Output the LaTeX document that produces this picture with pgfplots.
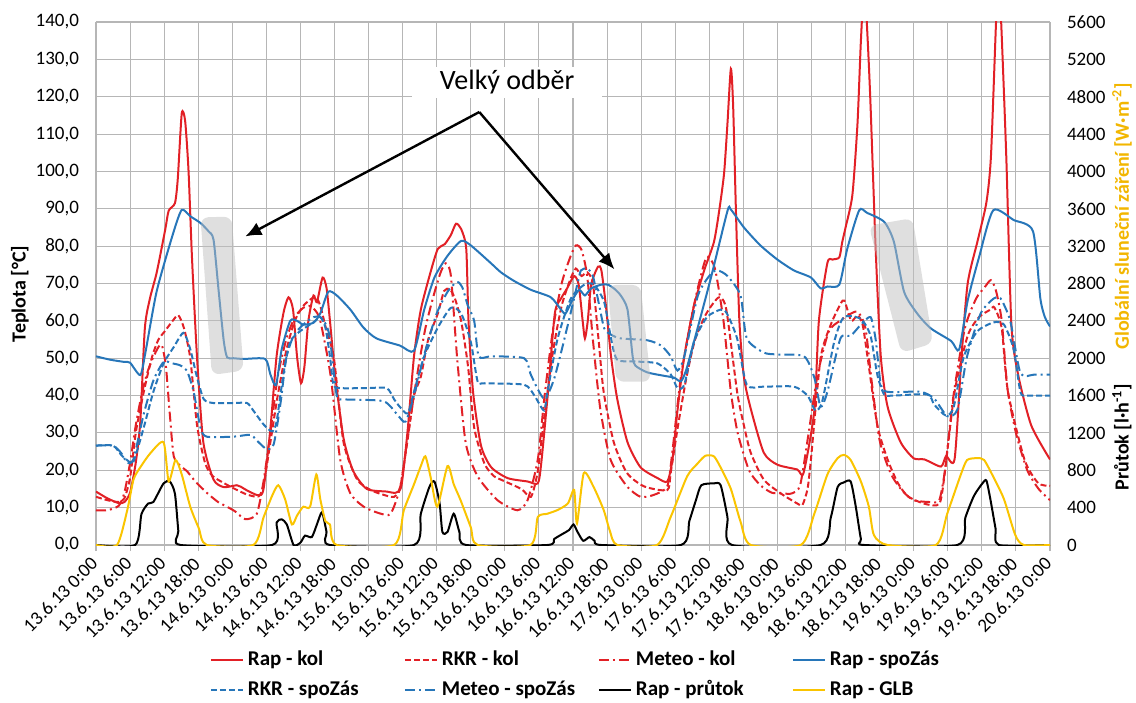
\documentclass[border=0pt]{standalone}
\usepackage{fontspec}
\setmainfont{Carlito}
\usepackage{pgfplots}
\pgfplotsset{compat=1.18}
\usetikzlibrary{arrows.meta}

\definecolor{cred}{RGB}{226,32,38}
\definecolor{cblue}{RGB}{39,118,185}
\definecolor{cyel}{RGB}{250,196,0}
\definecolor{cylab}{RGB}{242,182,0}
\definecolor{cgrid}{RGB}{182,182,182}

\pgfplotsset{
  s1/.style={line width=1pt, smooth, tension=0.4},
  rapkol/.style={s1, cred, solid},
  rkrkol/.style={s1, cred, dash pattern=on 3pt off 1.5pt},
  metkol/.style={s1, cred, dash pattern=on 5pt off 2pt on 1pt off 2pt},
  rapspo/.style={s1, cblue, solid},
  rkrspo/.style={s1, cblue, dash pattern=on 3pt off 1.5pt},
  metspo/.style={s1, cblue, dash pattern=on 5pt off 2pt on 1pt off 2pt},
  prutok/.style={s1, black, solid},
  glb/.style={s1, cyel, solid},
}
\newcommand{\legtxt}[1]{\makebox[77pt][l]{#1}}

\begin{document}
\begin{tikzpicture}
\begin{axis}[
  scale only axis, width=477pt, height=261.5pt,
  xmin=0, xmax=168, ymin=0, ymax=140,
  xtick={0,6,...,168},
  xticklabels={13.6.13 0:00,13.6.13 6:00,13.6.13 12:00,13.6.13 18:00,
    14.6.13 0:00,14.6.13 6:00,14.6.13 12:00,14.6.13 18:00,
    15.6.13 0:00,15.6.13 6:00,15.6.13 12:00,15.6.13 18:00,
    16.6.13 0:00,16.6.13 6:00,16.6.13 12:00,16.6.13 18:00,
    17.6.13 0:00,17.6.13 6:00,17.6.13 12:00,17.6.13 18:00,
    18.6.13 0:00,18.6.13 6:00,18.6.13 12:00,18.6.13 18:00,
    19.6.13 0:00,19.6.13 6:00,19.6.13 12:00,19.6.13 18:00,
    20.6.13 0:00},
  ytick={0,10,...,140},
  grid=major,
  major grid style={cgrid, line width=0.55pt},
  axis line style={draw=none},
  xtick pos=bottom, ytick pos=left,
  tick align=outside,
  xtick style={cgrid, line width=0.55pt},
  ytick style={draw=none},
  major tick length=3pt,
  xticklabel style={rotate=45, anchor=east, inner sep=1pt, font=\fontsize{9.5}{11}\selectfont},
  xticklabel shift=4pt,
  yticklabel style={font=\fontsize{9.5}{11}\selectfont, xshift=-2pt,
    /pgf/number format/.cd, fixed, fixed zerofill, precision=1, use comma, assume math mode=true},
  ylabel={Teplota [°C]},
  ylabel style={font=\fontsize{10}{12}\selectfont\bfseries, at={(axis description cs:-0.0797,0.48)}, anchor=center},
]
% Rap - kol
\addplot[rapkol] coordinates {
(0,14.3)(2,12.5)(4,11.2)(5,11.5)(6,14)(7,22)(7.8,33)(8.6,58)(9.5,66)(10.7,73)(12.2,84.5)(12.8,89.5)(13.9,91.5)(14.4,98)(15.1,115.5)(15.7,113.5)(16.3,100)(16.9,77)(17.8,50)(18.9,27.5)(20.7,17.5)(22.5,15.5)(24.8,16)(25.5,15.6)(26.6,14.6)(28.6,13.3)(29.5,15)(30.7,31)(31.8,50.5)(33,62)(33.9,66.3)(34.7,63)(35.4,50.5)(36.1,43.3)(36.7,47.7)(37.4,60)(38.3,66.8)(38.9,65)(39.9,71.6)(40.6,68.8)(41.2,60)(42.1,45.7)(43.6,28.5)(45.3,19.8)(47.7,15)(51.2,14.3)(52.8,14)(53.8,16)(54.9,31)(56,50.5)(57.2,63)(59,73.5)(60.2,79.3)(61.4,80.5)(62.5,83)(63.4,86)(64.3,84.6)(65.2,79.3)(65.6,60)(66.4,41)(67.8,26.6)(69.6,20.8)(72.5,17.9)(76,17)(77.8,16.5)(78.4,21.8)(79.6,41)(80.8,62)(81.9,66)(83,68.8)(84.2,72)(85,69.7)(85.7,60)(86.1,55.3)(86.6,60)(87.2,69.7)(88.4,74.5)(89,73.5)(89.8,64)(90.7,50.5)(91.8,39)(93.6,27.5)(95.9,20.8)(98.9,17.9)(100.6,17)(101.5,22.7)(102.4,36)(103.6,50.5)(105.3,64)(107.1,73.5)(108.8,81)(109.7,89)(110.6,99.4)(111.2,112.8)(111.8,127.5)(112.2,117.6)(112.7,89)(113.3,60)(114.1,45)(115.3,36.5)(117.6,24.7)(120,21.5)(123.5,20.2)(124.6,19.3)(126.5,36)(127.3,60)(128.8,75.5)(129.7,76.4)(130.9,77)(131.4,81)(132,85)(133.2,93.7)(134.1,112.8)(134.7,135)(135.3,150)(135.9,135)(136.4,117.6)(137.3,79.3)(138.2,50.5)(139.4,37)(141.7,27.5)(144,23.2)(145.9,22.9)(148.8,21)(149.7,23.8)(151.2,23)(152.4,50)(153.5,70)(155.3,81.7)(156.8,91.7)(157.6,104)(158.5,140)(158.95,152)(159.4,140)(160.3,104)(161.2,59)(162.4,45.5)(164.7,32)(168,22.9)};
% RKR - kol
\addplot[rkrkol] coordinates {
(0,12.9)(2,12)(4,11.5)(5,12.5)(6,18)(7,30)(8,38)(9,45)(10,51)(11,55)(12,57)(13.5,60)(14.5,61.5)(15.5,58)(16.6,50)(17.8,32)(19.2,22)(20.5,18.5)(22.5,16.6)(24.2,15.2)(26.6,13.5)(28.6,13)(29.5,16)(30.7,27.4)(32,40)(33.5,52)(35,60)(36.5,64)(38,66)(38.8,66.3)(39.5,64)(40.5,58)(41.9,50)(43.6,27.4)(46,17.5)(48.4,14.7)(50.5,13.5)(52.5,12.9)(53.6,15.7)(54.8,27.4)(56,40)(57.2,45)(58.5,55)(60.2,62)(61.3,68)(62.3,68.5)(63.2,66)(64.3,60)(65.5,48)(66.6,31.4)(68.4,21.8)(70.1,18.4)(71.3,17.5)(74.9,15)(76.6,12.9)(77.8,19.8)(79,35)(80.5,52)(82,64)(83.5,71)(84.5,74)(85.5,72)(86.5,73)(87.5,70)(88.5,55)(89.4,41)(91.2,27.4)(93.5,19.3)(96.5,15.7)(100.6,14.7)(101.2,19.3)(102.5,32)(104,45)(105.5,55)(107.5,62)(109.7,66.3)(111,63)(112.9,41)(114.1,32)(115.3,24.7)(117.6,17.5)(120.6,13.8)(123.5,11.1)(124.4,10.7)(125.3,15)(125.9,22.9)(127.6,50)(129.4,59)(131.1,64.5)(131.8,65.4)(133,60)(134.1,61.5)(135,59)(135.9,50)(137.6,32)(139.4,22.9)(141.2,16.6)(143,13)(146,11)(148.5,11)(149.4,18.4)(151.2,41)(153.5,56)(155.5,61)(157.5,63)(158.2,63.6)(159.5,58)(160.6,41)(163.5,22.9)(165.9,16.6)(168,15.8)};
% Meteo - kol
\addplot[metkol] coordinates {
(0,9.3)(2,9.3)(4,10.5)(5,14)(6,22)(7,32)(8,40)(9,46)(10,50)(11,53)(11.6,53.5)(12.3,48)(13,35)(13.7,23.7)(15,21)(16,19.8)(17.5,17)(19.5,14)(21.5,11.5)(23,10.3)(24.5,9)(26.3,6.9)(28.3,8.3)(29.5,17)(30.7,30)(32,45)(33.5,55)(35,61)(36.5,63.5)(37.5,64)(38.5,63)(39.5,60)(41.3,45.5)(43,22.9)(44.8,13.8)(47.2,10.2)(50.1,8.4)(51.9,8.4)(53.6,15.7)(55,30)(56.5,45)(58,58)(59.5,67)(60.7,73)(61.6,75.4)(62.5,72)(63.6,50)(65.1,27.4)(67.2,18.4)(70.7,12)(74.2,9.3)(76,12)(77.8,22.9)(79,40)(80.5,58)(82,70)(83.5,77)(84.5,80.2)(85.5,79)(86.5,72)(87.5,55)(88.8,36.5)(90.6,22.9)(93.5,15.7)(95.9,12.9)(98.2,13.4)(100.6,15.7)(101.5,25)(103,45)(105,62)(106.5,72)(107.6,77.2)(109,74)(110.5,60)(111.8,41)(113,30)(115,20)(117,16)(119,14)(121,13.8)(122.5,13.8)(124,16)(125.5,30)(127,45)(129,57)(131,60)(134,62.5)(135.5,58)(136.5,45)(138,28)(140,19)(142,14.5)(144,12)(147,11.5)(148.5,12)(149.5,20)(151,40)(153,58)(155,66)(156.5,69)(157.6,70.9)(158.5,68)(159.5,60)(160.5,42)(162,30)(164,20)(166,15)(168,12)};
% Rap - spoZas
\addplot[rapspo] coordinates {
(0,50.5)(2.5,49.6)(5,49)(6,48.8)(7.8,45.5)(8.7,51.5)(10.7,68)(13.6,83.5)(15.1,89.7)(16.6,88)(18.4,86.2)(19.8,84)(20.7,81.7)(21.6,68)(22.5,54.6)(23.1,50.2)(24.2,50)(26,49.8)(29.8,49.8)(30.7,45.7)(31.7,42.8)(32.7,52.4)(34.2,60)(35.4,60)(36.5,59)(38.3,59.5)(39.5,62)(40.9,67.8)(42.4,66.8)(44.8,63)(47.1,58.2)(49.4,55.3)(53.5,53.4)(56,52)(57.8,63)(59.6,71.6)(61.9,77.4)(64.3,81.4)(66,80.2)(69.5,75.5)(71.3,73)(73.6,70.7)(76.6,68.3)(80.1,66.3)(81.9,63)(82.7,62)(84,65.9)(85.1,68.3)(86.1,66.8)(87.2,68.7)(89,69.7)(90.1,69.7)(91.2,68.7)(92.4,66.8)(93.6,63)(94.5,50.5)(95,48)(97.1,46.2)(100,45.3)(101.8,44.8)(103,43.8)(103.9,46.7)(105.3,54.4)(108.3,71.6)(111.2,89.4)(111.8,89.8)(114.1,85)(117,80.2)(120,76.4)(122.9,73.5)(125.9,71.6)(127.6,68.7)(128.8,69.2)(130.9,69.7)(132.3,79.3)(134.4,89.6)(135.8,88.9)(138.8,86.5)(140.5,81.2)(142.3,67.8)(144.6,62)(147,58)(150.6,54.6)(152,52.3)(153.5,65.4)(155.5,77)(158,89.6)(161.6,87)(165,84)(166.3,66)(167.1,61)(168,58.5)};
% RKR - spoZas
\addplot[rkrspo] coordinates {
(0,26.6)(3,26.6)(4.5,24)(5.5,22.7)(6.6,22.3)(8.4,31.4)(10.1,41)(11.9,48.6)(13.7,53)(15.4,56.8)(16.6,52.4)(17.8,44.8)(19,39)(20.7,38)(24.2,38)(26.6,38)(27.7,36)(29.5,32.3)(31,30.4)(31.8,33)(33,45.7)(34.2,54.4)(36,57.3)(38.3,59.6)(39.5,61)(40.4,58.2)(41.2,50.5)(41.8,43)(43,42)(47.7,42)(51.2,42)(52.5,39)(53.5,37)(54.9,35.2)(56,41)(57.8,50.5)(60.2,58.2)(62.5,63.5)(64.3,62)(66,54.4)(67.2,43.8)(68.4,43.3)(75.4,42.9)(77.2,40)(78.9,36)(79.5,41)(81.3,55.3)(83.6,65.9)(86,69.7)(87.7,69.7)(89.5,65)(90.7,55.3)(91.8,49.6)(95.4,49.1)(98.9,48.6)(101.2,45.7)(102.4,42)(103.6,42.9)(105.3,54.4)(107.6,61)(110,63)(111.1,62)(112.9,55.3)(114.6,42.9)(117.6,42.4)(122.9,42.4)(125.3,40)(126.7,36)(127.9,38.5)(130,54.4)(131.7,61)(134.7,60.5)(136.4,56)(137.6,45.5)(138.8,40.3)(140.5,40)(146.4,40.3)(147.6,37.6)(149.6,34.7)(151,36.7)(152.8,50.3)(155.2,57.2)(158.1,59.6)(159.9,59)(161.6,52.4)(162.8,40.9)(164,40)(168,40)};
% Meteo - spoZas
\addplot[metspo] coordinates {
(0,26.6)(3,26.6)(4.5,24.5)(5.5,22)(6.6,23)(8.4,35)(10.1,44)(11.9,49)(13.5,48.6)(14.8,48.1)(16,46.7)(17.2,41)(18.4,31.4)(19.5,29)(24.2,29)(27.2,29.5)(28.3,28)(30.1,25.6)(31.3,27)(32.5,38)(33.5,50)(34.8,56)(36.5,59)(38.3,61)(39.5,61)(40.5,59)(41.2,55.3)(42.4,40)(43.6,39)(50.6,38.5)(53,35)(54.5,33)(56,40)(58,52)(60,62)(62,68)(63.6,70.4)(64.5,69)(65.5,64)(66.6,60)(67.4,50.5)(69.6,50.5)(75.4,50)(76.6,45.5)(78.9,39.2)(80.7,44.6)(83.1,59)(84.8,70)(85.4,73.5)(86.5,74)(87.5,72)(88.5,65)(89.5,58)(90.7,56.3)(92.4,55.3)(97.1,54.8)(99.5,53.4)(101.2,50.5)(102.4,46.7)(103.6,50.5)(106,66.8)(108.3,72.6)(109.5,73.5)(111.2,72)(113.5,66.8)(114.6,55.3)(117.6,51.5)(120,51)(124.7,50.5)(126.5,44.8)(127.6,37)(128.8,41)(131.1,55.3)(132.9,56)(134.7,59)(136.4,61)(137.3,55)(138.2,43)(139.4,41)(145.2,41)(147.6,39.2)(149.9,34.5)(151.7,36.3)(153.4,50.5)(155.8,62)(158.1,66)(159.3,66)(161,60)(162.8,46)(165.2,45.6)(168,45.6)};
% shaded boxes
\fill[gray!50, opacity=0.5, rounded corners=4pt] (axis cs:18.4,87.7) -- (axis cs:23.9,87.9) -- (axis cs:26,46.7) -- (axis cs:20.4,45.5) -- cycle;
\fill[gray!50, opacity=0.5, rounded corners=4pt] (axis cs:90.1,69.6) -- (axis cs:95.9,69.6) -- (axis cs:97.7,43.7) -- (axis cs:91.6,43.7) -- cycle;
\fill[gray!50, opacity=0.5, rounded corners=4pt] (axis cs:136.1,85.5) -- (axis cs:143.8,87.5) -- (axis cs:147.4,54) -- (axis cs:141.8,51.4) -- cycle;
% annotation
\draw[line width=1.2pt, -{Latex[length=8pt,width=7pt]}] (axis cs:67.5,115.9) -- (axis cs:26.3,82.6);
\draw[line width=1.2pt, -{Latex[length=8pt,width=7pt]}] (axis cs:67.5,115.9) -- (axis cs:91.3,73.8);
\node[fill=white, inner xsep=14pt, inner ysep=2pt, font=\fontsize{14}{16}\selectfont] at (axis cs:72.4,123.8) {Velký odběr};
\end{axis}

\begin{axis}[
  scale only axis, width=477pt, height=261.5pt,
  xmin=0, xmax=168, ymin=0, ymax=5600,
  axis x line=none,
  axis y line*=right,
  y axis line style={draw=none},
  ytick={0,400,...,5600},
  ytick style={draw=none},
  yticklabel style={font=\fontsize{9.5}{11}\selectfont, xshift=5pt,
    /pgf/number format/.cd, 1000 sep={}, assume math mode=true},
  legend columns=4,
  legend image code/.code={\draw[#1] (0pt,0pt) -- (16pt,0pt);},
  legend style={
    at={(axis description cs:0.119,-0.196)}, anchor=north west,
    draw=none, fill=none, inner sep=0pt,
    font=\fontsize{10.5}{12}\selectfont\bfseries,
    nodes={inner xsep=1pt, inner ysep=1.5pt, text height=7.5pt, text depth=2pt, anchor=west},
    row sep=2.5pt,
    /tikz/every odd column/.append style={column sep=1pt},
  },
]
\addlegendimage{rapkol}
\addlegendentry{\legtxt{Rap - kol}}
\addlegendimage{rkrkol}
\addlegendentry{\legtxt{RKR - kol}}
\addlegendimage{metkol}
\addlegendentry{\legtxt{Meteo - kol}}
\addlegendimage{rapspo}
\addlegendentry{\legtxt{Rap - spoZás}}
\addlegendimage{rkrspo}
\addlegendentry{\legtxt{RKR - spoZás}}
\addlegendimage{metspo}
\addlegendentry{\legtxt{Meteo - spoZás}}
% Rap - prutok
\addplot[prutok] coordinates {
(0,0)(6.9,0)(8,330)(9.2,445)(10.1,460)(11.9,660)(13,680)(13.9,550)(14.5,150)(14.9,0)(31,0)(31.8,240)(32.7,275)(33.6,220)(34.8,0)(36,25)(36.8,100)(38,85)(38.9,220)(39.8,350)(40.6,140)(41.2,0)(56,0)(57.2,335)(58.7,620)(59.6,680)(60.5,450)(61,140)(61.9,140)(63,335)(64,140)(65.2,0)(79.5,0)(80.7,65)(82.2,120)(83.3,160)(84.1,220)(84.8,140)(85.8,45)(86.9,85)(87.8,45)(89,0)(103,0)(104.5,260)(105.7,490)(106.6,640)(108.8,660)(110,640)(111.2,300)(112,0)(127.6,0)(129.4,295)(130.6,620)(131.7,670)(132.9,680)(133.8,410)(134.7,65)(135.3,0)(151.7,0)(153.1,295)(154.6,525)(156.1,660)(156.8,690)(157.5,490)(158.4,180)(159,0)(168,0)};
\addlegendentry{\legtxt{Rap - průtok}}
% Rap - GLB
\addplot[glb] coordinates {
(0,0)(3.7,0)(5.5,372)(6.6,700)(7.8,832)(9.6,985)(11.9,1100)(12.8,680)(14,910)(15.1,755)(16.6,410)(18.1,180)(19.5,0)(27.7,0)(29.5,295)(31,525)(32.1,640)(33.3,490)(34.5,220)(35.4,315)(36.5,410)(37.7,410)(38.8,755)(39.5,490)(40.4,255)(41.2,220)(42.4,0)(52.5,0)(54.2,370)(56,650)(57.2,845)(58,950)(58.9,735)(60.1,410)(61.9,845)(63,650)(64.2,480)(66,190)(67.2,0)(76.5,0)(77.8,300)(79.5,335)(81.3,375)(83.1,445)(84.2,590)(84.7,230)(85.9,770)(87.6,625)(89.4,375)(90.5,150)(91.8,0)(98.8,0)(101.2,300)(104.1,735)(105.9,870)(107.3,955)(108.8,950)(110,830)(111.8,600)(113.5,250)(115.3,0)(124.1,0)(126.5,335)(128.8,755)(130.6,930)(131.7,965)(132.9,910)(134.7,680)(136.1,410)(137,105)(139.4,0)(147.9,0)(149.9,335)(152.3,755)(153.4,910)(155.2,930)(156.4,910)(158.1,720)(159.9,490)(161.9,105)(163.4,0)(168,0)};
\addlegendentry{\legtxt{Rap - GLB}}
\end{axis}
\node[rotate=90, font=\fontsize{10}{12}\selectfont\bfseries, text=cylab] at (513pt,164.5pt) {Globální sluneční záření [W·m\textsuperscript{-2}]};
\node[rotate=90, font=\fontsize{10}{12}\selectfont\bfseries] at (513pt,54pt) {Průtok [l·h\textsuperscript{-1}]};
\pgfresetboundingbox
\path[use as bounding box] (-48pt,-78.5pt) rectangle (520pt,272.5pt);
\end{tikzpicture}
\end{document}
